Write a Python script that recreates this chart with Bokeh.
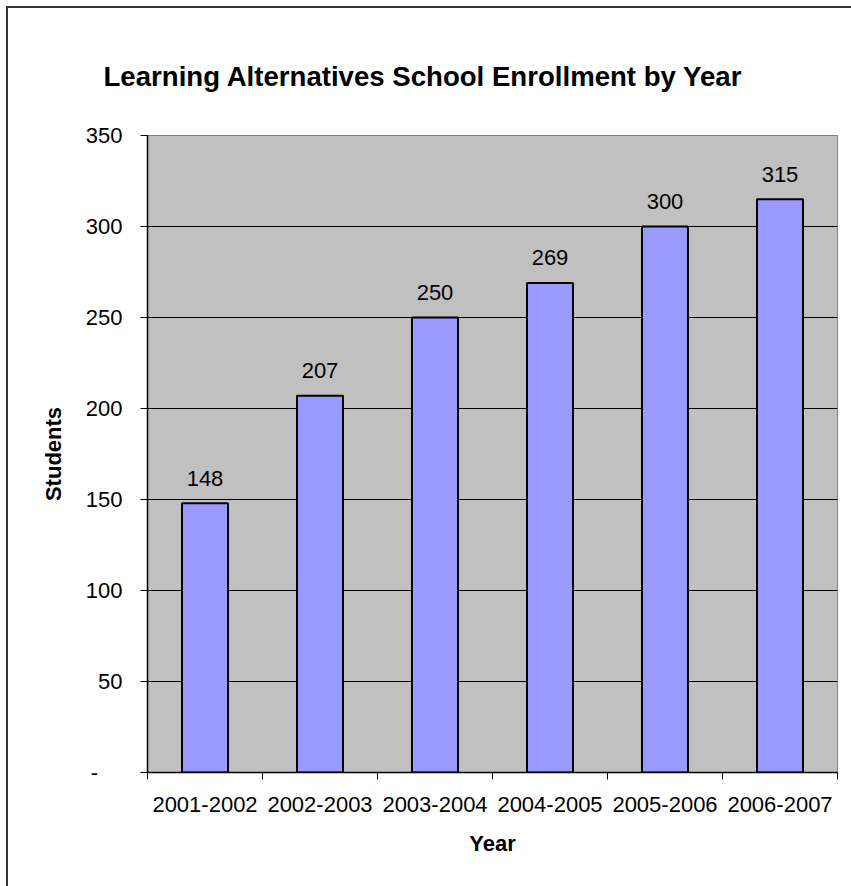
from bokeh.plotting import figure
from bokeh.models import FixedTicker, Range1d
from bokeh.core.properties import value
from bokeh.embed import file_html
from bokeh.resources import INLINE

# ---- data ----
years = ["2001-2002", "2002-2003", "2003-2004", "2004-2005", "2005-2006", "2006-2007"]
students = [148, 207, 250, 269, 300, 315]
y_ticks = [0, 50, 100, 150, 200, 250, 300, 350]

FONT = "Liberation Sans"
NB = "\u00a0"

xs = [i + 0.5 for i in range(len(years))]
bounds = list(range(len(years) + 1))

p = figure(width=851, height=886, output_backend="svg", toolbar_location=None,
           x_range=Range1d(0, len(years)), y_range=Range1d(0, 350),
           min_border_left=147, min_border_right=14, min_border_top=135, min_border_bottom=114)

p.background_fill_color = "#C0C0C0"
p.border_fill_color = None
p.outline_line_color = "#808080"
p.outline_line_width = 1
# outer chart-area border (top and left edges visible, the rest falls outside the picture)
p.styles = {
    "background": ("linear-gradient(#333333, #333333) 6px 6px / calc(100% - 6px) 2px no-repeat, "
                   "linear-gradient(#333333, #333333) 6px 6px / 2px calc(100% - 6px) no-repeat, "
                   "white"),
}

# title
p.title.text = "Learning Alternatives School Enrollment by Year"
p.title.text_font = FONT
p.title.text_font_size = "27.6px"
p.title.text_font_style = "bold"
p.title.text_color = "black"
p.title.align = "left"
p.title.offset = -44
p.title.standoff = 88
p.title.vertical_align = "bottom"

# bars
p.vbar(x=xs, top=students, width=0.4, bottom=0, fill_color="#9999FF",
       line_color="black", line_width=2)
p.text(x=xs, y=students, text=[str(v) for v in students], y_offset=-25,
       text_align="center", text_baseline="alphabetic",
       text_font=value(FONT), text_font_size="22px", text_color="black")

# grid
p.xgrid.grid_line_color = None
p.ygrid.grid_line_color = "black"
p.ygrid.grid_line_width = 1
p.ygrid.ticker = FixedTicker(ticks=y_ticks[1:-1])

# x axis
xa = p.xaxis[0]
xa.ticker = FixedTicker(ticks=xs, minor_ticks=bounds)
xa.major_label_overrides = {x: y for x, y in zip(xs, years)}
xa.major_tick_out = 0
xa.major_tick_in = 0
xa.minor_tick_out = 7
xa.minor_tick_in = 0
xa.minor_tick_line_color = "black"
xa.axis_line_color = "black"
xa.axis_line_width = 1.5
xa.major_label_text_font = FONT
xa.major_label_text_font_size = "22px"
xa.major_label_text_color = "black"
xa.major_label_standoff = 17
xa.axis_label = "Year"
xa.axis_label_text_font = FONT
xa.axis_label_text_font_size = "22px"
xa.axis_label_text_font_style = "bold"
xa.axis_label_text_color = "black"
xa.axis_label_standoff = 16

# y axis (zero shown accounting-style as a dash)
ya = p.yaxis[0]
ya.ticker = FixedTicker(ticks=y_ticks)
ya.major_label_overrides = {0: "-" + NB * 4}
ya.major_tick_out = 7
ya.major_tick_in = 0
ya.minor_tick_line_color = None
ya.axis_line_color = "black"
ya.axis_line_width = 1.5
ya.major_label_text_font = FONT
ya.major_label_text_font_size = "22px"
ya.major_label_text_color = "black"
ya.major_label_standoff = 18
ya.axis_label = "Students"
ya.axis_label_text_font = FONT
ya.axis_label_text_font_size = "22px"
ya.axis_label_text_font_style = "bold"
ya.axis_label_text_color = "black"
ya.axis_label_standoff = 17

open("out.html", "w").write(file_html(p, INLINE))
